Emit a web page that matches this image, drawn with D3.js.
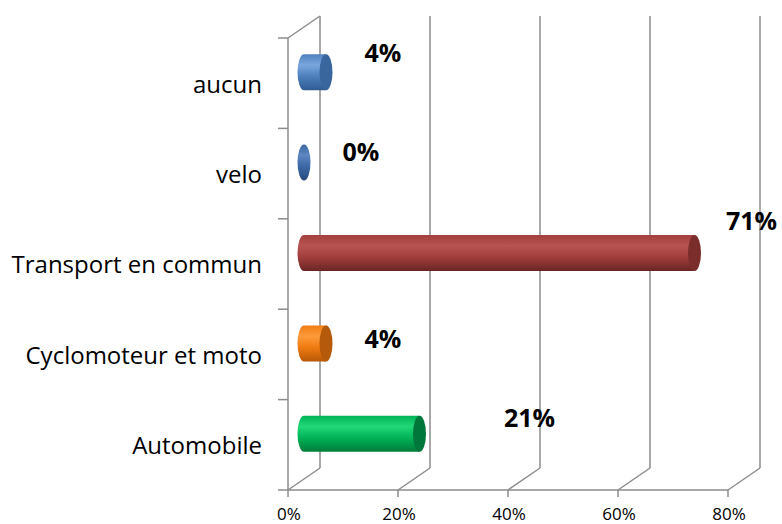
<!DOCTYPE html>
<html>
<head>
<meta charset="utf-8">
<script src="https://cdn.jsdelivr.net/npm/d3@7"></script>
<style>
  html, body { margin: 0; padding: 0; background: #fff; }
  svg { display: block; }
</style>
</head>
<body>
<div id="chart"></div>
<script>
// data
const categories = ["aucun", "velo", "Transport en commun", "Cyclomoteur et moto", "Automobile"];
const values = [4, 0, 71, 4, 21];
const tickValues = [0, 20, 40, 60, 80];

// colours per bar: [light, mid, dark, cap]
const palette = [
  ["#7aa6de", "#4f81bd", "#2f5b92", "#3a669e"],
  ["#5d86c0", "#3d68a5", "#274a7c", "#2e5489"],
  ["#b85553", "#a23f3d", "#6a2523", "#7b2d2b"],
  ["#ff9a3c", "#f07c12", "#b85806", "#b55a0a"],
  ["#22d878", "#00b457", "#007c3a", "#00773a"]
];
// hand placed data labels in the original: [dx, dy] from the bar end
const labelNudge = [[0, -17], [0, -8], [0, -30], [0, -2], [53, -13]];

const W = 782, H = 524;
const depthX = 32, depthY = -22;   // 3d offset of back wall
const x = d3.scaleLinear().domain([0, 80]).range([288, 728]);
const y = d3.scaleBand().domain(categories).range([38, 490]);
const ry = 18, rx = 6.5;

const svg = d3.select("#chart").append("svg").attr("width", W).attr("height", H);
const defs = svg.append("defs");

palette.forEach((c, i) => {
  const g = defs.append("linearGradient").attr("id", "grad" + i)
    .attr("x1", 0).attr("y1", 0).attr("x2", 0).attr("y2", 1);
  g.append("stop").attr("offset", "0%").attr("stop-color", c[1]);
  g.append("stop").attr("offset", "30%").attr("stop-color", c[0]);
  g.append("stop").attr("offset", "60%").attr("stop-color", c[1]);
  g.append("stop").attr("offset", "100%").attr("stop-color", c[2]);
});

const gridColor = "#8c8c8c";
const grid = svg.append("g").attr("stroke", gridColor).attr("stroke-width", 1.5).attr("fill", "none");
const yTop = y.range()[0], yBottom = y.range()[1];

// back wall gridlines + floor diagonals
tickValues.forEach(t => {
  grid.append("line")
    .attr("x1", x(t) + depthX).attr("x2", x(t) + depthX)
    .attr("y1", yTop + depthY).attr("y2", yBottom + depthY);
  grid.append("line")
    .attr("x1", x(t)).attr("y1", yBottom)
    .attr("x2", x(t) + depthX).attr("y2", yBottom + depthY);
  grid.append("line")
    .attr("x1", x(t)).attr("x2", x(t))
    .attr("y1", yBottom).attr("y2", yBottom + 7);
});
// left wall
grid.append("line").attr("x1", x(0)).attr("x2", x(0)).attr("y1", yTop).attr("y2", yBottom);
grid.append("line").attr("x1", x(0)).attr("y1", yTop).attr("x2", x(0) + depthX).attr("y2", yTop + depthY);
// front baseline
grid.append("line").attr("x1", x(0)).attr("x2", x(80)).attr("y1", yBottom).attr("y2", yBottom);
// category ticks
const bandEdges = categories.map(c => y(c)).concat([yBottom]);
bandEdges.forEach(v => {
  grid.append("line").attr("x1", x(0) - 10).attr("x2", x(0)).attr("y1", v).attr("y2", v);
});

// category labels
svg.append("g").selectAll("text").data(categories).join("text")
  .attr("x", 262)
  .attr("y", d => y(d) + y.bandwidth() / 2 + 3)
  .attr("text-anchor", "end")
  .attr("dominant-baseline", "middle")
  .attr("font-family", "'Open Sans', sans-serif")
  .attr("font-size", 24)
  .attr("fill", "#000")
  .text(d => d);

// x tick labels
svg.append("g").selectAll("text").data(tickValues).join("text")
  .attr("x", d => x(d) + 1)
  .attr("y", 515)
  .attr("text-anchor", "middle")
  .attr("dominant-baseline", "middle")
  .attr("font-family", "'Open Sans', sans-serif")
  .attr("font-size", 17)
  .attr("fill", "#000")
  .text(d => d + "%");

// cylinders
const bars = svg.append("g");
categories.forEach((c, i) => {
  const cy = y(c) + y.bandwidth() / 2 + depthY / 2;
  const x0 = x(0) + depthX / 2;
  const x1 = x(values[i]) + depthX / 2;
  const t = cy - ry, b = cy + ry;
  if (x1 - x0 > 0.5) {
    bars.append("path")
      .attr("d", `M${x0},${t} L${x1},${t} L${x1},${b} L${x0},${b} A${rx},${ry} 0 0 1 ${x0},${t} Z`)
      .attr("fill", `url(#grad${i})`);
  }
  bars.append("ellipse")
    .attr("cx", x1).attr("cy", cy).attr("rx", rx).attr("ry", ry)
    .attr("fill", x1 - x0 > 0.5 ? palette[i][3] : `url(#grad${i})`);
});

// data labels
svg.append("g").selectAll("text").data(values).join("text")
  .attr("x", (d, i) => x(d) + depthX / 2 + 57 + labelNudge[i][0])
  .attr("y", (d, i) => y(categories[i]) + y.bandwidth() / 2 + depthY / 2 + labelNudge[i][1])
  .attr("text-anchor", "middle")
  .attr("dominant-baseline", "middle")
  .attr("font-family", "'Open Sans', sans-serif")
  .attr("font-weight", "bold")
  .attr("font-size", 25)
  .attr("fill", "#000")
  .text(d => d + "%");
</script>
</body>
</html>
